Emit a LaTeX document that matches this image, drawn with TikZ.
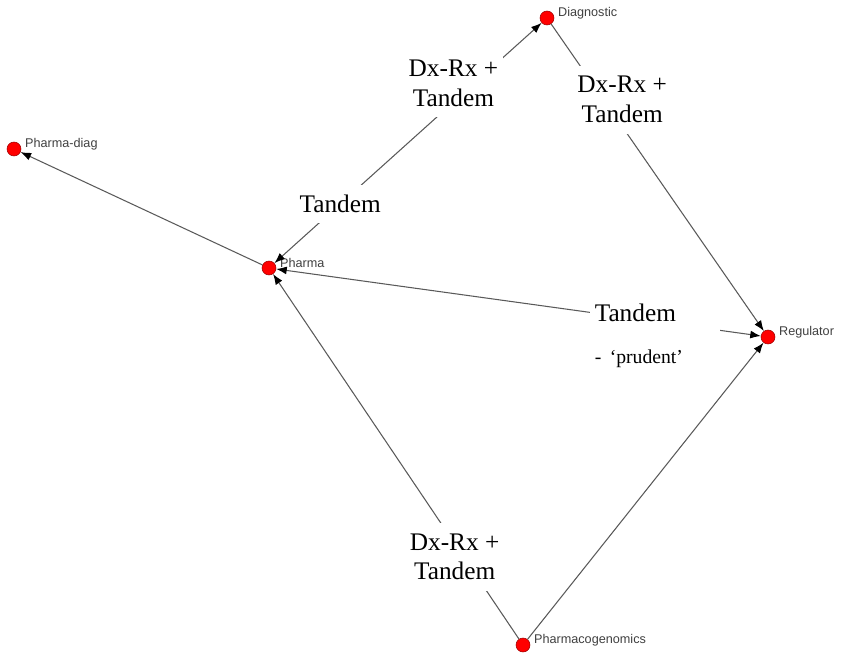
\documentclass[tikz,border=0pt]{standalone}
\usepackage{fontspec}
\setmainfont{Liberation Serif}
\newfontfamily\namefont{Liberation Sans}
\usetikzlibrary{arrows.meta}

\tikzset{
  actor/.style={circle,fill=red,draw=red!60!black,line width=0.3pt,minimum size=0.28cm,inner sep=0pt,
    label={[font=\namefont\fontsize{7.2}{8}\selectfont,text=black!75,yshift=0.1cm,inner sep=2pt]right:#1}},
  link/.style={draw=black!65,line width=0.6pt,>={Latex[length=6pt,width=4.5pt,color=black]}},
  tag/.style={fill=white,font=\fontsize{14.4}{17}\selectfont,align=center,inner xsep=3pt,inner ysep=6pt}
}

\begin{document}
\begin{tikzpicture}[x=0.02cm,y=-0.02cm]
    \useasboundingbox (0,0) rectangle (841,655);
    \node[actor=Diagnostic] (diag) at (547,18) {};
    \node[actor=Pharma-diag] (pdiag) at (14,149) {};
    \node[actor=Pharma] (pharma) at (269,268) {};
    \node[actor=Regulator] (reg) at (768,337) {};
    \node[actor=Pharmacogenomics] (pgx) at (523,645) {};

    \draw[link,->] (pharma) -- (pdiag);
    \draw[link,<->] (pharma) -- node[tag,pos=.246]{Tandem}
        node[tag,pos=.67,yshift=0.38cm]{Dx-Rx +\\Tandem} (diag);
    \draw[link,->] (diag) -- node[tag,pos=.24,xshift=0.4cm,yshift=-0.04cm]{Dx-Rx +\\Tandem} (reg);
    \draw[link,<->] (pharma) -- node[tag,pos=.775,xshift=0.06cm,yshift=-0.3cm,align=left,text width=2.4cm]
        {Tandem\\[7pt]{\fontsize{11.2}{13}\selectfont - ‘prudent’}} (reg);
    \draw[link,->] (pgx) -- node[tag,pos=.225,xshift=-0.18cm]{Dx-Rx +\\Tandem} (pharma);
    \draw[link,->] (pgx) -- (reg);
\end{tikzpicture}
\end{document}
